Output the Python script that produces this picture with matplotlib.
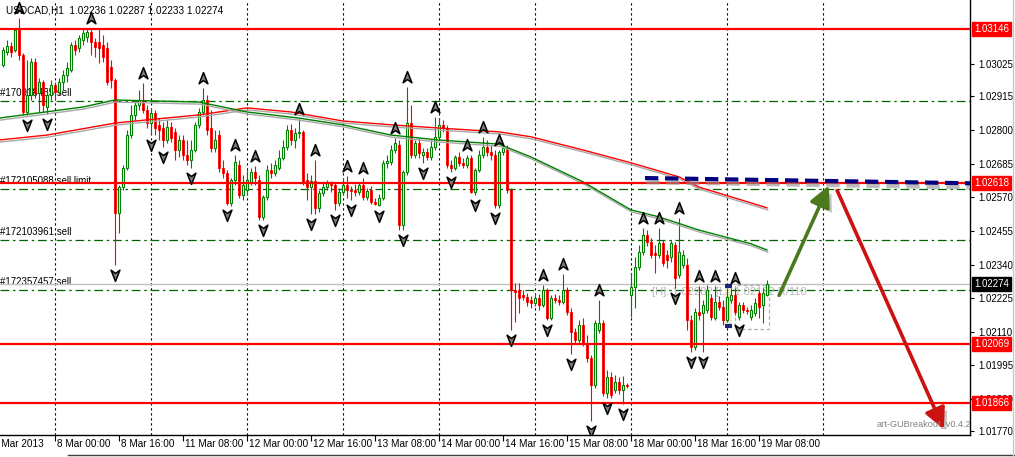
import numpy as np
import matplotlib
matplotlib.use("Agg")
import matplotlib.pyplot as plt
import matplotlib.patheffects as pe
import matplotlib.transforms as mtransforms
from matplotlib.path import Path
from matplotlib.patches import Rectangle, FancyArrowPatch
from matplotlib.lines import Line2D

plt.rcParams["font.family"] = ["Liberation Sans", "DejaVu Sans"]

# ---- data (hourly USDCAD bars) ----
header = "USDCAD,H1  1.02236 1.02287 1.02233 1.02274"

opens = [
    1.03023, 1.03067, 1.03088, 1.03074, 1.03142, 1.03057, 1.02862, 1.02920, 1.03033, 1.02927,
    1.02965, 1.02879, 1.02920, 1.02954, 1.02930, 1.02965, 1.02989, 1.03006, 1.03091, 1.03081,
    1.03108, 1.03118, 1.03136, 1.03101, 1.03101, 1.03091, 1.03081, 1.03016, 1.02971, 1.02517,
    1.02605, 1.02670, 1.02783, 1.02852, 1.02886, 1.02903, 1.02869, 1.02824, 1.02859, 1.02818,
    1.02807, 1.02766, 1.02811, 1.02794, 1.02732, 1.02766, 1.02715, 1.02698, 1.02732, 1.02818,
    1.02862, 1.02903, 1.02807, 1.02739, 1.02783, 1.02670, 1.02653, 1.02551, 1.02629, 1.02681,
    1.02578, 1.02595, 1.02623, 1.02657, 1.02629, 1.02503, 1.02571, 1.02664, 1.02653, 1.02670,
    1.02705, 1.02742, 1.02800, 1.02766, 1.02790, 1.02794, 1.02629, 1.02605, 1.02626, 1.02534,
    1.02585, 1.02605, 1.02616, 1.02612, 1.02551, 1.02588, 1.02612, 1.02595, 1.02595, 1.02588,
    1.02612, 1.02571, 1.02595, 1.02554, 1.02544, 1.02568, 1.02688, 1.02691, 1.02732, 1.02749,
    1.02476, 1.02657, 1.02824, 1.02715, 1.02756, 1.02715, 1.02725, 1.02708, 1.02742, 1.02777,
    1.02818, 1.02807, 1.02681, 1.02670, 1.02708, 1.02688, 1.02681, 1.02705, 1.02588, 1.02664,
    1.02715, 1.02742, 1.02725, 1.02715, 1.02544, 1.02725, 1.02739, 1.02595, 1.02253, 1.02253,
    1.02236, 1.02229, 1.02219, 1.02209, 1.02226, 1.02202, 1.02253, 1.02157, 1.02226, 1.02219,
    1.02212, 1.02253, 1.02178, 1.02110, 1.02082, 1.02134, 1.02072, 1.02021, 1.01928, 1.02116,
    1.02140, 1.01901, 1.01956, 1.01911, 1.01939, 1.01911, 1.01928, 1.02236, 1.02263, 1.02332,
    1.02383, 1.02441, 1.02417, 1.02380, 1.02373, 1.02414, 1.02373, 1.02366, 1.02407, 1.02305,
    1.02339, 1.02339, 1.02151, 1.02058, 1.02178, 1.02175, 1.02185, 1.02226, 1.02157, 1.02212,
    1.02195, 1.02151, 1.02219, 1.02236, 1.02161, 1.02202, 1.02185, 1.02161, 1.02175, 1.02243,
    1.02202, 1.02236,
]
highs = [
    1.03084, 1.03108, 1.03101, 1.03149, 1.03183, 1.03064, 1.03040, 1.03047, 1.03047, 1.02978,
    1.02971, 1.02944, 1.02971, 1.02965, 1.02978, 1.03006, 1.03033, 1.03101, 1.03108, 1.03125,
    1.03149, 1.03149, 1.03149, 1.03115, 1.03149, 1.03125, 1.03101, 1.03040, 1.02978, 1.02612,
    1.02681, 1.02800, 1.02886, 1.02903, 1.02937, 1.02961, 1.02886, 1.02876, 1.02869, 1.02841,
    1.02828, 1.02835, 1.02828, 1.02807, 1.02783, 1.02783, 1.02766, 1.02766, 1.02828, 1.02876,
    1.02944, 1.02920, 1.02869, 1.02800, 1.02800, 1.02698, 1.02664, 1.02636, 1.02715, 1.02698,
    1.02647, 1.02664, 1.02670, 1.02677, 1.02647, 1.02578, 1.02681, 1.02688, 1.02698, 1.02732,
    1.02766, 1.02818, 1.02821, 1.02807, 1.02838, 1.02800, 1.02653, 1.02647, 1.02698, 1.02595,
    1.02619, 1.02629, 1.02626, 1.02623, 1.02602, 1.02636, 1.02643, 1.02609, 1.02616, 1.02623,
    1.02636, 1.02602, 1.02609, 1.02568, 1.02581, 1.02698, 1.02715, 1.02749, 1.02773, 1.02766,
    1.02664, 1.02948, 1.02886, 1.02766, 1.02773, 1.02739, 1.02739, 1.02766, 1.02845, 1.02841,
    1.02835, 1.02818, 1.02698, 1.02715, 1.02725, 1.02705, 1.02715, 1.02715, 1.02670, 1.02732,
    1.02777, 1.02766, 1.02749, 1.02732, 1.02732, 1.02746, 1.02749, 1.02602, 1.02277, 1.02277,
    1.02253, 1.02243, 1.02233, 1.02243, 1.02240, 1.02270, 1.02260, 1.02236, 1.02240, 1.02236,
    1.02308, 1.02263, 1.02192, 1.02123, 1.02151, 1.02157, 1.02099, 1.02031, 1.02151, 1.02219,
    1.02151, 1.01980, 1.01973, 1.01962, 1.01956, 1.01959, 1.01935, 1.02311, 1.02366, 1.02407,
    1.02465, 1.02458, 1.02431, 1.02407, 1.02465, 1.02424, 1.02390, 1.02424, 1.02417, 1.02499,
    1.02390, 1.02363, 1.02168, 1.02192, 1.02267, 1.02219, 1.02270, 1.02240, 1.02267, 1.02233,
    1.02219, 1.02260, 1.02260, 1.02260, 1.02212, 1.02212, 1.02195, 1.02202, 1.02226, 1.02253,
    1.02260, 1.02287,
]
lows = [
    1.03016, 1.03057, 1.03050, 1.03067, 1.03040, 1.02852, 1.02852, 1.02903, 1.02910, 1.02862,
    1.02862, 1.02855, 1.02903, 1.02903, 1.02920, 1.02937, 1.02965, 1.02999, 1.03057, 1.03067,
    1.03091, 1.03101, 1.03057, 1.03050, 1.03030, 1.03033, 1.02954, 1.02944, 1.02339, 1.02448,
    1.02595, 1.02664, 1.02773, 1.02835, 1.02869, 1.02859, 1.02807, 1.02783, 1.02783, 1.02766,
    1.02742, 1.02756, 1.02759, 1.02698, 1.02708, 1.02698, 1.02681, 1.02670, 1.02725, 1.02807,
    1.02852, 1.02783, 1.02725, 1.02725, 1.02657, 1.02636, 1.02544, 1.02540, 1.02612, 1.02568,
    1.02561, 1.02578, 1.02612, 1.02612, 1.02493, 1.02493, 1.02561, 1.02636, 1.02643, 1.02664,
    1.02698, 1.02732, 1.02749, 1.02739, 1.02773, 1.02612, 1.02561, 1.02513, 1.02513, 1.02520,
    1.02575, 1.02595, 1.02588, 1.02527, 1.02540, 1.02578, 1.02568, 1.02561, 1.02575, 1.02578,
    1.02561, 1.02561, 1.02547, 1.02544, 1.02540, 1.02561, 1.02670, 1.02681, 1.02722, 1.02458,
    1.02458, 1.02647, 1.02705, 1.02705, 1.02705, 1.02688, 1.02698, 1.02698, 1.02732, 1.02766,
    1.02794, 1.02670, 1.02657, 1.02664, 1.02677, 1.02670, 1.02670, 1.02585, 1.02578, 1.02657,
    1.02705, 1.02712, 1.02698, 1.02534, 1.02534, 1.02715, 1.02585, 1.02116, 1.02144, 1.02175,
    1.02219, 1.02198, 1.02192, 1.02198, 1.02185, 1.02195, 1.02151, 1.02151, 1.02209, 1.02202,
    1.02205, 1.02168, 1.02034, 1.02068, 1.02068, 1.02062, 1.02007, 1.01805, 1.01918, 1.02106,
    1.01891, 1.01884, 1.01884, 1.01901, 1.01897, 1.01863, 1.01918, 1.02161, 1.02192, 1.02322,
    1.02373, 1.02404, 1.02363, 1.02311, 1.02363, 1.02335, 1.02328, 1.02349, 1.02260, 1.02294,
    1.02328, 1.02116, 1.02041, 1.02048, 1.02151, 1.02041, 1.02175, 1.02151, 1.02151, 1.02185,
    1.02134, 1.02144, 1.02209, 1.02168, 1.02151, 1.02175, 1.02171, 1.02151, 1.02164, 1.02157,
    1.02140, 1.02233,
]
closes = [
    1.03074, 1.03088, 1.03067, 1.03142, 1.03057, 1.02862, 1.02920, 1.03033, 1.02927, 1.02965,
    1.02886, 1.02920, 1.02954, 1.02930, 1.02965, 1.02989, 1.03012, 1.03091, 1.03074, 1.03115,
    1.03132, 1.03136, 1.03101, 1.03084, 1.03081, 1.03050, 1.02965, 1.02971, 1.02517, 1.02605,
    1.02670, 1.02783, 1.02852, 1.02886, 1.02903, 1.02869, 1.02824, 1.02859, 1.02807, 1.02800,
    1.02766, 1.02811, 1.02773, 1.02732, 1.02766, 1.02715, 1.02698, 1.02732, 1.02818, 1.02862,
    1.02903, 1.02800, 1.02739, 1.02766, 1.02670, 1.02653, 1.02551, 1.02629, 1.02691, 1.02578,
    1.02612, 1.02629, 1.02657, 1.02636, 1.02503, 1.02571, 1.02664, 1.02653, 1.02681, 1.02705,
    1.02742, 1.02800, 1.02766, 1.02790, 1.02794, 1.02623, 1.02605, 1.02626, 1.02534, 1.02585,
    1.02605, 1.02619, 1.02612, 1.02551, 1.02588, 1.02612, 1.02595, 1.02592, 1.02588, 1.02612,
    1.02571, 1.02592, 1.02554, 1.02547, 1.02568, 1.02688, 1.02694, 1.02732, 1.02756, 1.02476,
    1.02657, 1.02824, 1.02715, 1.02756, 1.02722, 1.02725, 1.02708, 1.02742, 1.02777, 1.02818,
    1.02807, 1.02681, 1.02670, 1.02708, 1.02688, 1.02681, 1.02705, 1.02588, 1.02664, 1.02715,
    1.02742, 1.02725, 1.02715, 1.02544, 1.02725, 1.02739, 1.02595, 1.02253, 1.02246, 1.02226,
    1.02229, 1.02212, 1.02209, 1.02226, 1.02202, 1.02253, 1.02157, 1.02226, 1.02219, 1.02212,
    1.02253, 1.02178, 1.02110, 1.02082, 1.02134, 1.02072, 1.02021, 1.01928, 1.02140, 1.02140,
    1.01901, 1.01956, 1.01894, 1.01939, 1.01911, 1.01928, 1.01925, 1.02263, 1.02332, 1.02383,
    1.02441, 1.02417, 1.02373, 1.02373, 1.02414, 1.02346, 1.02356, 1.02414, 1.02294, 1.02383,
    1.02373, 1.02151, 1.02058, 1.02178, 1.02168, 1.02202, 1.02253, 1.02161, 1.02212, 1.02195,
    1.02151, 1.02229, 1.02236, 1.02178, 1.02202, 1.02185, 1.02181, 1.02185, 1.02209, 1.02195,
    1.02243, 1.02274,
]

# moving averages (sampled along the line)
ma_red_bar = [0, 12, 29, 37, 50, 62, 73, 86, 98, 110, 125, 133, 146, 158, 170, 175, 188, 192]
ma_red = [1.02766, 1.02783, 1.02824, 1.02835, 1.02852, 1.02876, 1.02862, 1.02831, 1.02818,
          1.02807, 1.02794, 1.02777, 1.02732, 1.02688, 1.02640, 1.02605, 1.02551, 1.02534]
ma_green_bar = [0, 21, 29, 50, 62, 75, 86, 98, 110, 125, 133, 146, 158, 165, 175, 188, 192]
ma_green = [1.02841, 1.02879, 1.02903, 1.02896, 1.02862, 1.02841, 1.02818, 1.02783, 1.02766,
            1.02752, 1.02708, 1.02623, 1.02527, 1.02503, 1.02458, 1.02411, 1.02390]

fractal_up = [5, 23, 36, 51, 59, 64, 75, 79, 87, 91, 99, 102, 109, 117, 121, 125,
              136, 141, 150, 161, 165, 170, 175, 179, 184]
fractal_down = [7, 12, 29, 38, 41, 48, 57, 66, 78, 84, 88, 95, 101, 106, 113, 119, 124,
                128, 137, 143, 148, 152, 156, 169, 173, 176, 185]

red_levels = [1.03146, 1.02618, 1.02069, 1.01866]
order_levels = [1.02900, 1.02599, 1.02424, 1.02253]
order_labels = ["#170918465 sell", "#172105088 sell limit", "#172103961 sell", "#172357457 sell"]
bid = 1.02274

ytick_vals = [1.03025, 1.02915, 1.02800, 1.02685, 1.02570, 1.02455, 1.02340,
              1.02225, 1.02110, 1.01995, 1.01880, 1.01770]
xtick_bars = [-2, 14, 30, 46, 62, 78, 94, 110, 126, 142, 158, 174, 190]
xtick_labels = ["7 Mar 2013", "8 Mar 00:00", "8 Mar 16:00", "11 Mar 08:00", "12 Mar 00:00",
                "12 Mar 16:00", "13 Mar 08:00", "14 Mar 00:00", "14 Mar 16:00", "15 Mar 08:00",
                "18 Mar 00:00", "18 Mar 16:00", "19 Mar 08:00"]
grid_bars = [14, 38, 62, 86, 110, 134, 158, 182, 206]

# drawn objects (bar index, price)
blue_line_bar = [161.5, 243.0]
blue_line_price = [1.02636, 1.02618]
green_arrow = [(194.75, 1.02226), (207.75, 1.02619)]
red_arrow = [(209.25, 1.02602), (236.5, 1.01768)]
highlight_bar = 182
highlight_range = (1.02130, 1.02266)
range_box = (184, 192.6, 1.02120, 1.02270)

GREEN = "#008000"
RED = "#ff0000"
FS = 6.6

fig = plt.figure(figsize=(10.15, 4.57), dpi=100)
ax = fig.add_axes([0, 22 / 457, 970 / 1015, 435 / 457])

for s in ["left", "top"]:
    ax.spines[s].set_visible(False)
ax.spines["right"].set_linewidth(1)
ax.spines["bottom"].set_linewidth(1)

# vertical dotted grid
for b in grid_bars:
    ax.axvline(b, color="black", lw=0.8, ls=(0, (2, 2.5)), zorder=1)

# order lines + labels
for lv, lab in zip(order_levels, order_labels):
    ax.axhline(lv, color="#006400", lw=0.9, ls=(0, (7, 3, 2, 3)), zorder=1)
    ax.text(0.3, lv + 0.00010, lab, fontsize=FS + 0.4, color="black", va="bottom", ha="left",
            zorder=1)
ax.axhline(bid, color="#c0c0c0", lw=1, zorder=1)

# info text behind candles
ax.text(163.3, 1.02246, "[H]: 1.02282 [L]: 1.02152 R/110", fontsize=8, color="#b8b8b8",
        va="center", ha="left", zorder=1)

# highlight box and range box
ax.add_patch(Rectangle((highlight_bar - 0.55, highlight_range[0]), 1.9,
                       highlight_range[1] - highlight_range[0], fc="#eeeecc", ec="none", zorder=2))
ax.hlines([highlight_range[0], highlight_range[1]], highlight_bar - 0.55, highlight_bar + 1.35,
          color="#1a237e", lw=3, zorder=6)
ax.add_patch(Rectangle((range_box[0], range_box[2]), range_box[1] - range_box[0],
                       range_box[3] - range_box[2], fc="none", ec="#b0b0b0", lw=0.9,
                       ls=(0, (3, 2)), zorder=2))

# candles
bars = np.arange(1, len(opens) + 1)
o = np.array(opens); h = np.array(highs); l = np.array(lows); c = np.array(closes)
up = c >= o
ax.vlines(bars[up], l[up], h[up], color=GREEN, lw=0.8, zorder=3)
ax.vlines(bars[~up], l[~up], h[~up], color=RED, lw=0.8, zorder=3)
ax.bar(bars[up], c[up] - o[up], bottom=o[up], width=0.7, facecolor="white",
       edgecolor=GREEN, linewidth=0.8, zorder=4)
ax.bar(bars[~up], o[~up] - c[~up], bottom=c[~up], width=0.7, facecolor=RED,
       edgecolor=RED, linewidth=0.6, zorder=4)
ax.vlines(bars[~up], c[~up], o[~up], color="#300000", lw=0.45, zorder=5)

# moving averages with a grey shadow
shadow = [pe.SimpleLineShadow(offset=(0.5, -1.5), shadow_color="#a8a8a8", alpha=1), pe.Normal()]
ax.plot(ma_red_bar, ma_red, color=RED, lw=1, zorder=5, path_effects=shadow)
ax.plot(ma_green_bar, ma_green, color=GREEN, lw=1, zorder=5, path_effects=shadow)

# red support/resistance levels
for lv in red_levels:
    ax.axhline(lv, color=RED, lw=1.6, zorder=6)

# fractal arrows
up_path = Path([(0, 1), (0.75, -0.9), (0, -0.35), (-0.75, -0.9), (0, 1)],
               [Path.MOVETO, Path.LINETO, Path.LINETO, Path.LINETO, Path.CLOSEPOLY])
dn_path = Path([(0, -1), (0.75, 0.9), (0, 0.35), (-0.75, 0.9), (0, -1)],
               [Path.MOVETO, Path.LINETO, Path.LINETO, Path.LINETO, Path.CLOSEPOLY])
fu = np.array(fractal_up); fd = np.array(fractal_down)
ax.plot(fu, h[fu - 1] + 0.00034, ls="none", marker=up_path, ms=8.5, mfc="#808080",
        mec="black", mew=1.1, zorder=7)
ax.plot(fd, l[fd - 1] - 0.00034, ls="none", marker=dn_path, ms=8.5, mfc="#808080",
        mec="black", mew=1.1, zorder=7)

# blue dashed target line
ax.plot(blue_line_bar, blue_line_price, color="#000080", lw=3.0, ls=(0, (3.2, 1.6)), zorder=8,
        solid_capstyle="butt",
        path_effects=[pe.SimpleLineShadow(offset=(1, -3), shadow_color="#909090", alpha=0.6),
                      pe.Normal()])

# projection arrows
for (p0, p1), col in [(green_arrow, "#4a7a1c"), (red_arrow, "#cc1111")]:
    arr = FancyArrowPatch(p0, p1, arrowstyle="-|>,head_length=0.7,head_width=0.35",
                          mutation_scale=18, lw=2.6, color=col, zorder=9, clip_on=False,
                          path_effects=[pe.withSimplePatchShadow(offset=(3, -3),
                                                                 shadow_rgbFace="#808080",
                                                                 alpha=0.45)])
    ax.add_patch(arr)

ax.text(219.5, 1.01795, "art-GUBreakout_v0.4.2", fontsize=FS, color="#808080",
        va="center", ha="left", zorder=9)

# header
ax.text(0.006, 0.988, header, transform=ax.transAxes, fontsize=FS + 0.6, va="top", ha="left",
        zorder=10)

# right price axis
ax.yaxis.tick_right()
ax.set_yticks(ytick_vals)
ax.set_yticklabels([f"{v:.5f}" for v in ytick_vals])
ax.tick_params(axis="y", direction="out", length=3, labelsize=FS + 0.4, pad=3)

blend_y = mtransforms.blended_transform_factory(ax.transAxes, ax.transData)
for lv in red_levels:
    ax.text(1.004, lv, f"{lv:.5f}", transform=blend_y, fontsize=FS + 0.4, color="white",
            ha="left", va="center", clip_on=False, zorder=20,
            bbox=dict(boxstyle="square,pad=0.2", fc=RED, ec=RED))
ax.text(1.004, bid, f"{bid:.5f}", transform=blend_y, fontsize=FS + 0.4, color="white",
        ha="left", va="center", clip_on=False, zorder=20,
        bbox=dict(boxstyle="square,pad=0.2", fc="black", ec="black"))

# bottom time axis
ax.set_xticks(xtick_bars)
ax.set_xticklabels([])
ax.tick_params(axis="x", direction="out", length=4)
blend_x = mtransforms.blended_transform_factory(ax.transData, ax.transAxes)
for b, lab in zip(xtick_bars, xtick_labels):
    ax.text(b + 0.5, -0.01, lab, transform=blend_x, fontsize=FS + 0.6, ha="left", va="top",
            clip_on=False)

# limits last, so the tick settings above do not widen the view
ax.set_xlim(0.25, 242.75)
ax.set_ylim(1.01757, 1.03245)

fig.add_artist(Line2D([68 / 1015, 1], [2 / 457, 2 / 457], color="#404040", lw=1))
fig.add_artist(Line2D([1013 / 1015, 1013 / 1015], [0, 1], color="#c8c8c8", lw=1))

fig.savefig("out.png", dpi=100)
